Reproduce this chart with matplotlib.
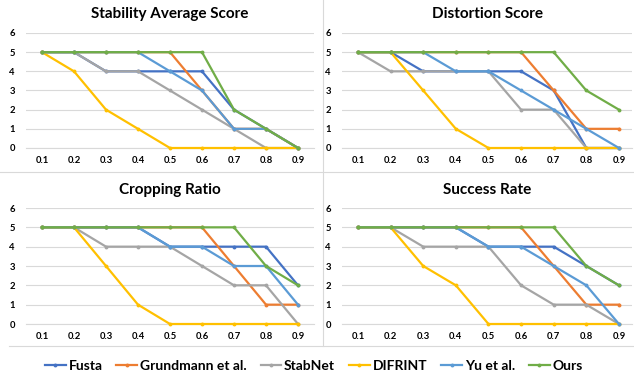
import matplotlib
matplotlib.use("Agg")
import matplotlib.pyplot as plt
from matplotlib.lines import Line2D

W, H = 634, 383
DPI = 100

x_labels = ["0.1", "0.2", "0.3", "0.4", "0.5", "0.6", "0.7", "0.8", "0.9"]
methods = ["Fusta", "Grundmann et al.", "StabNet", "DIFRINT", "Yu et al.", "Ours"]
colors = ["#4472C4", "#ED7D31", "#A5A5A5", "#FFC000", "#5B9BD5", "#70AD47"]

titles = ["Stability Average Score", "Distortion Score", "Cropping Ratio", "Success Rate"]

stability = {
    "Fusta":            [5, 5, 4, 4, 4, 4, 2, 1, 0],
    "Grundmann et al.": [5, 5, 5, 5, 5, 3, 1, 1, 0],
    "StabNet":          [5, 5, 4, 4, 3, 2, 1, 0, 0],
    "DIFRINT":          [5, 4, 2, 1, 0, 0, 0, 0, 0],
    "Yu et al.":        [5, 5, 5, 5, 4, 3, 1, 1, 0],
    "Ours":             [5, 5, 5, 5, 5, 5, 2, 1, 0],
}
distortion = {
    "Fusta":            [5, 5, 4, 4, 4, 4, 3, 0, 0],
    "Grundmann et al.": [5, 5, 5, 5, 5, 5, 3, 1, 1],
    "StabNet":          [5, 4, 4, 4, 4, 2, 2, 0, 0],
    "DIFRINT":          [5, 5, 3, 1, 0, 0, 0, 0, 0],
    "Yu et al.":        [5, 5, 5, 4, 4, 3, 2, 1, 0],
    "Ours":             [5, 5, 5, 5, 5, 5, 5, 3, 2],
}
cropping = {
    "Fusta":            [5, 5, 5, 5, 4, 4, 4, 4, 2],
    "Grundmann et al.": [5, 5, 5, 5, 5, 5, 3, 1, 1],
    "StabNet":          [5, 5, 4, 4, 4, 3, 2, 2, 0],
    "DIFRINT":          [5, 5, 3, 1, 0, 0, 0, 0, 0],
    "Yu et al.":        [5, 5, 5, 5, 4, 4, 3, 3, 1],
    "Ours":             [5, 5, 5, 5, 5, 5, 5, 3, 2],
}
success = {
    "Fusta":            [5, 5, 5, 5, 4, 4, 4, 3, 2],
    "Grundmann et al.": [5, 5, 5, 5, 5, 5, 3, 1, 1],
    "StabNet":          [5, 5, 4, 4, 4, 2, 1, 1, 0],
    "DIFRINT":          [5, 5, 3, 2, 0, 0, 0, 0, 0],
    "Yu et al.":        [5, 5, 5, 5, 4, 4, 3, 2, 0],
    "Ours":             [5, 5, 5, 5, 5, 5, 5, 3, 2],
}
panels = [stability, distortion, cropping, success]

FONT = ["Lato", "DejaVu Sans"]

fig = plt.figure(figsize=(W / DPI, H / DPI), dpi=DPI)
fig.patch.set_facecolor("white")

def px_axes(left, top, right, bottom):
    return fig.add_axes([left / W, 1 - bottom / H, (right - left) / W, (bottom - top) / H])

# axes boxes in pixel coords: (left, top, right, bottom)
boxes = [
    (26, 33, 314, 148),
    (342, 33, 632, 148),
    (26, 208, 314, 324),
    (342, 208, 632, 324),
]
xlims = [(-0.5, 8.5), (-0.49, 8.4), (-0.5, 8.5), (-0.49, 8.4)]
title_y = [14, 14, 190, 190]

xs = list(range(len(x_labels)))
for i, (data, box) in enumerate(zip(panels, boxes)):
    ax = px_axes(*box)
    ax.set_xlim(*xlims[i])
    ax.set_ylim(0, 6)
    for m, c in zip(methods, colors):
        ax.plot(xs, data[m], color=c, lw=1.6, marker="o", ms=2.8,
                markeredgewidth=0, clip_on=False, zorder=3)
    ax.set_yticks(range(0, 7))
    ax.set_xticks(xs)
    ax.set_xticklabels(x_labels)
    ax.grid(axis="y", color="#D9D9D9", lw=0.8, zorder=0)
    ax.set_axisbelow(True)
    for s in ["top", "right", "left"]:
        ax.spines[s].set_visible(False)
    ax.spines["bottom"].set_color("#D9D9D9")
    ax.spines["bottom"].set_linewidth(0.8)
    ax.tick_params(length=0, labelsize=6.8, colors="#000000", pad=6)
    ax.tick_params(axis="y", pad=8)
    for lab in ax.get_xticklabels() + ax.get_yticklabels():
        lab.set_fontfamily(FONT)
        lab.set_fontweight("bold")
    cx = (box[0] + box[2]) / 2
    fig.text(cx / W, 1 - title_y[i] / H, titles[i], ha="center", va="center",
             fontsize=11, fontweight="bold", family=FONT)

# separator lines
fig.add_artist(Line2D([323 / W, 323 / W], [1 - 0 / H, 1 - 346 / H], color="#D9D9D9", lw=0.8))
fig.add_artist(Line2D([0, 1], [1 - 172 / H, 1 - 172 / H], color="#D9D9D9", lw=0.8))
fig.add_artist(Line2D([9 / W, 1], [1 - 346 / H, 1 - 346 / H], color="#D9D9D9", lw=0.8))

handles = [Line2D([0], [0], color=c, lw=1.6, marker="o", ms=2.8, markeredgewidth=0) for c in colors]
leg = fig.legend(handles, methods, loc="center", bbox_to_anchor=(0.495, 1 - 366 / H),
                 ncol=6, frameon=False, handlelength=1.5, handletextpad=0.2,
                 columnspacing=1.0, prop={"family": FONT, "weight": "bold", "size": 10})

fig.savefig("out.png", dpi=DPI, facecolor="white")
